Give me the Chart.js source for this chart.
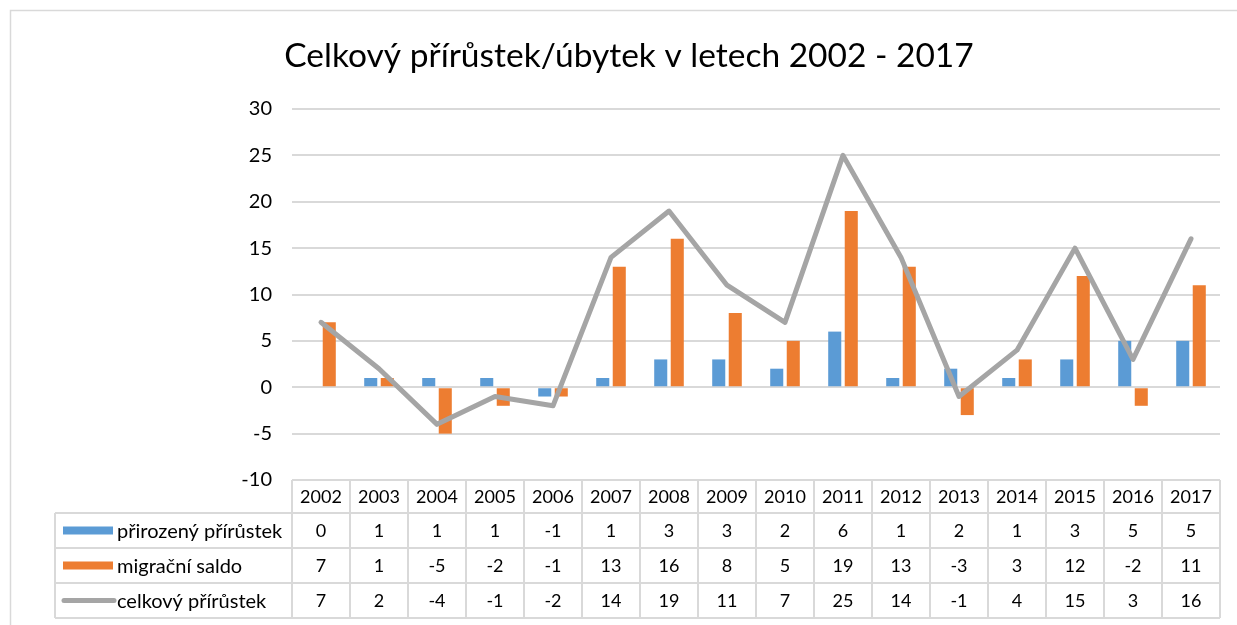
<!DOCTYPE html>
<html>
<head>
<meta charset="utf-8">
<script src="https://cdn.jsdelivr.net/npm/chart.js@4"></script>
<style>
html,body{margin:0;padding:0;background:#fff;}
#wrap{width:1237px;height:625px;position:relative;}
</style>
</head>
<body>
<div id="wrap"><canvas id="c" width="1237" height="625"></canvas></div>
<script>
const titleText = 'Celkový přírůstek/úbytek v letech 2002 - 2017';
const years = ['2002','2003','2004','2005','2006','2007','2008','2009','2010','2011','2012','2013','2014','2015','2016','2017'];
const seriesNames = ['přirozený přírůstek','migrační saldo','celkový přírůstek'];
const natural = [0,1,1,1,-1,1,3,3,2,6,1,2,1,3,5,5];
const migration = [7,1,-5,-2,-1,13,16,8,5,19,13,-3,3,12,-2,11];
const total = [7,2,-4,-1,-2,14,19,11,7,25,14,-1,4,15,3,16];
const yMin = -10, yMax = 30, yStep = 5;

const colors = ['#5b9bd5','#ed7d31','#a5a5a5'];
const FONT = 'Lato';
const gridColor = '#d9d9d9';

const tablePlugin = {
  id: 'dataTable',
  afterDraw(chart) {
    const ctx = chart.ctx;
    const xs = chart.scales.x;
    const area = chart.chartArea;
    const top = area.bottom;
    const headerH = 33, rowH = 35;
    const legLeft = 55;
    const catW = (area.right - area.left) / years.length;
    const rowsTop = top + headerH;
    const bottom = rowsTop + rowH * 3;
    ctx.save();
    // outer border
    ctx.strokeStyle = gridColor;
    ctx.lineWidth = 1.5;
    ctx.strokeRect(10.5, 10.5, 1300, 800);
    // title
    ctx.fillStyle = '#000';
    ctx.font = '33.5px ' + FONT;
    ctx.textAlign = 'center';
    ctx.textBaseline = 'alphabetic';
    ctx.fillText(titleText, 629, 67);
    // table lines
    ctx.strokeStyle = gridColor;
    ctx.lineWidth = 2;
    ctx.beginPath();
    ctx.moveTo(area.left, top); ctx.lineTo(area.right, top);
    for (let r = 0; r <= 3; r++) {
      const y = rowsTop + r * rowH;
      ctx.moveTo(legLeft, y); ctx.lineTo(area.right, y);
    }
    ctx.moveTo(legLeft, rowsTop); ctx.lineTo(legLeft, bottom);
    for (let i = 0; i <= years.length; i++) {
      const x = area.left + i * catW;
      ctx.moveTo(x, top); ctx.lineTo(x, bottom);
    }
    ctx.stroke();
    // text
    ctx.fillStyle = '#000';
    ctx.font = '18px ' + FONT;
    ctx.textAlign = 'center';
    ctx.textBaseline = 'middle';
    const rows = [natural, migration, total];
    years.forEach((yr, i) => {
      const cx = xs.getPixelForValue(i);
      ctx.fillText(yr, cx, top + headerH / 2 + 1);
      rows.forEach((arr, r) => {
        ctx.fillText(String(arr[i]), cx, rowsTop + r * rowH + rowH / 2 + 1);
      });
    });
    // legend keys
    ctx.textAlign = 'left';
    ctx.font = '20px ' + FONT;
    seriesNames.forEach((name, r) => {
      const cy = rowsTop + r * rowH + rowH / 2;
      if (r < 2) {
        ctx.fillStyle = colors[r];
        ctx.fillRect(63, cy - 4, 50, 8);
      } else {
        ctx.strokeStyle = colors[2];
        ctx.lineWidth = 5;
        ctx.lineCap = 'round';
        ctx.beginPath();
        ctx.moveTo(64, cy); ctx.lineTo(114, cy);
        ctx.stroke();
      }
      ctx.fillStyle = '#000';
      ctx.fillText(name, 117, cy + 1);
    });
    ctx.restore();
  }
};

new Chart(document.getElementById('c'), {
  type: 'bar',
  data: {
    labels: years,
    datasets: [
      { type: 'line', label: seriesNames[2], data: total, borderColor: colors[2], backgroundColor: colors[2],
        borderWidth: 5, pointRadius: 0, tension: 0, order: 0, borderJoinStyle: 'round', borderCapStyle: 'round' },
      { label: seriesNames[0], data: natural, backgroundColor: colors[0], order: 1,
        barPercentage: 0.79, categoryPercentage: 0.57 },
      { label: seriesNames[1], data: migration, backgroundColor: colors[1], order: 1,
        barPercentage: 0.79, categoryPercentage: 0.57 }
    ]
  },
  options: {
    responsive: false,
    animation: false,
    layout: { padding: { left: 0, right: 17, top: 109, bottom: 145 } },
    plugins: {
      legend: { display: false },
      tooltip: { enabled: false },
      title: { display: false }
    },
    scales: {
      x: { display: false, offset: true, grid: { display: false } },
      y: {
        min: yMin, max: yMax,
        ticks: { stepSize: yStep, color: '#000', font: { family: FONT, size: 20 }, padding: 20 },
        grid: { color: gridColor, lineWidth: 2, drawTicks: false },
        border: { display: false },
        afterFit(s) { s.width = 292; }
      }
    }
  },
  plugins: [tablePlugin]
});
</script>
</body>
</html>
